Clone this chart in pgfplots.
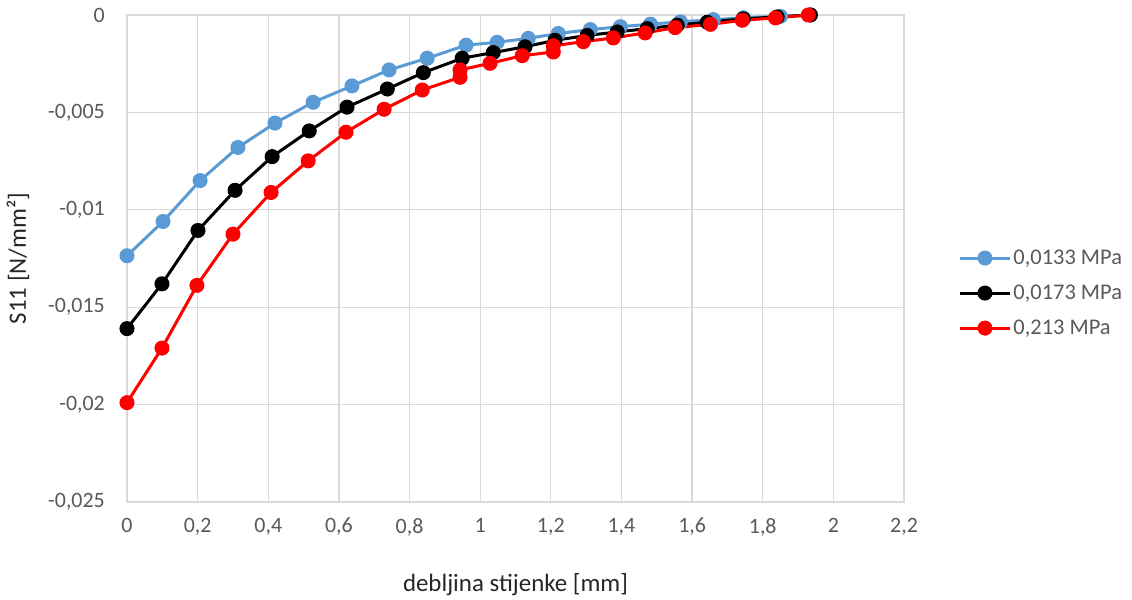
\documentclass[border=0pt]{standalone}
\usepackage{fontspec}
\setmainfont{Carlito}
\usepackage{pgfplots}
\pgfplotsset{compat=1.18}
\definecolor{exblue}{HTML}{5B9BD5}
\definecolor{exred}{HTML}{FF0000}
\definecolor{ticklab}{HTML}{595959}
\definecolor{gridc}{HTML}{D9D9D9}
\begin{document}
\begin{tikzpicture}[x=1bp,y=1bp]
\path[use as bounding box] (0,0) rectangle (1132,600);
\begin{axis}[
  at={(127bp,98bp)}, anchor=south west,
  scale only axis, width=777bp, height=487bp,
  xmin=0, xmax=2.2, ymin=-0.025, ymax=0,
  scaled y ticks=false, scaled x ticks=false,
  xtick={0,0.2,0.4,0.6,0.8,1,1.2,1.4,1.6,1.8,2,2.2},
  xticklabels={0,{0,2},{0,4},{0,6},{0,8},1,{1,2},{1,4},{1,6},{1,8},2,{2,2}},
  ytick={-0.025,-0.02,-0.015,-0.01,-0.005,0},
  yticklabels={{-0,025},{-0,02},{-0,015},{-0,01},{-0,005},0},
  grid=major, major grid style={draw=gridc, line width=1.3bp},
  axis line style={draw=gridc, line width=1.3bp},
  tick style={draw=none},
  tick label style={font=\fontsize{22}{26}\selectfont, text=ticklab, inner sep=1bp},
  xticklabel style={yshift=-15bp},
  yticklabel style={xshift=-21bp, anchor=east},
  xlabel={debljina stijenke [mm]},
  ylabel={S11 [N/mm²]},
  label style={font=\fontsize{25}{30}\selectfont, text=black!85},
  xlabel style={at={(axis description cs:0.5,-0.1704)}, anchor=center},
  ylabel style={at={(axis description cs:-0.1403,0.5)}, anchor=center},
  legend style={at={(axis description cs:1.066,0.429)}, anchor=west, draw=none, fill=none,
    font=\fontsize{22.5}{26}\selectfont, text=ticklab, row sep=15bp},
  legend cell align=left,
  legend image code/.code={\draw[mark repeat=2,mark phase=2,#1] plot coordinates {(0bp,0bp) (25bp,0bp) (50bp,0bp)};},
  every axis plot/.append style={line width=3bp, mark=*, mark size=6bp},
]
\addplot[color=exblue, mark options={fill=exblue, draw=exblue}] coordinates {
(0,-0.01236)(0.102,-0.0106)(0.207,-0.0085)(0.314,-0.0068)(0.419,-0.00555)(0.527,-0.00448)
(0.637,-0.00364)(0.742,-0.00282)(0.850,-0.00222)(0.960,-0.00155)(1.048,-0.0014)(1.136,-0.0012)
(1.221,-0.00095)(1.312,-0.00075)(1.397,-0.0006)(1.482,-0.00047)(1.567,-0.00035)(1.660,-0.00024)
(1.745,-0.00014)(1.850,-0.00007)(1.935,0)};
\addlegendentry{0,0133 MPa}
\addplot[color=black, mark options={fill=black, draw=black}] coordinates {
(0,-0.0161)(0.099,-0.0138)(0.201,-0.01106)(0.306,-0.0090)(0.411,-0.00727)(0.516,-0.00595)
(0.623,-0.00473)(0.737,-0.0038)(0.839,-0.00296)(0.949,-0.00222)(1.037,-0.00193)(1.127,-0.00163)
(1.212,-0.0013)(1.303,-0.00105)(1.388,-0.00087)(1.473,-0.0007)(1.558,-0.00052)(1.643,-0.00037)
(1.745,-0.0002)(1.841,-0.0001)(1.935,0)};
\addlegendentry{0,0173 MPa}
\addplot[color=exred, mark options={fill=exred, draw=exred}] coordinates {
(0,-0.0199)(0.099,-0.0171)(0.198,-0.01388)(0.300,-0.01125)(0.408,-0.00911)(0.513,-0.00749)
(0.620,-0.00602)(0.728,-0.00484)(0.836,-0.00385)(0.943,-0.0032)(0.943,-0.00282)(1.028,-0.00248)
(1.119,-0.00209)(1.207,-0.0019)(1.207,-0.00158)(1.292,-0.00137)(1.377,-0.00118)(1.467,-0.00092)
(1.552,-0.00065)(1.652,-0.00048)(1.742,-0.00027)(1.836,-0.00015)(1.929,0)};
\addlegendentry{0,213 MPa}
\end{axis}
\end{tikzpicture}
\end{document}
